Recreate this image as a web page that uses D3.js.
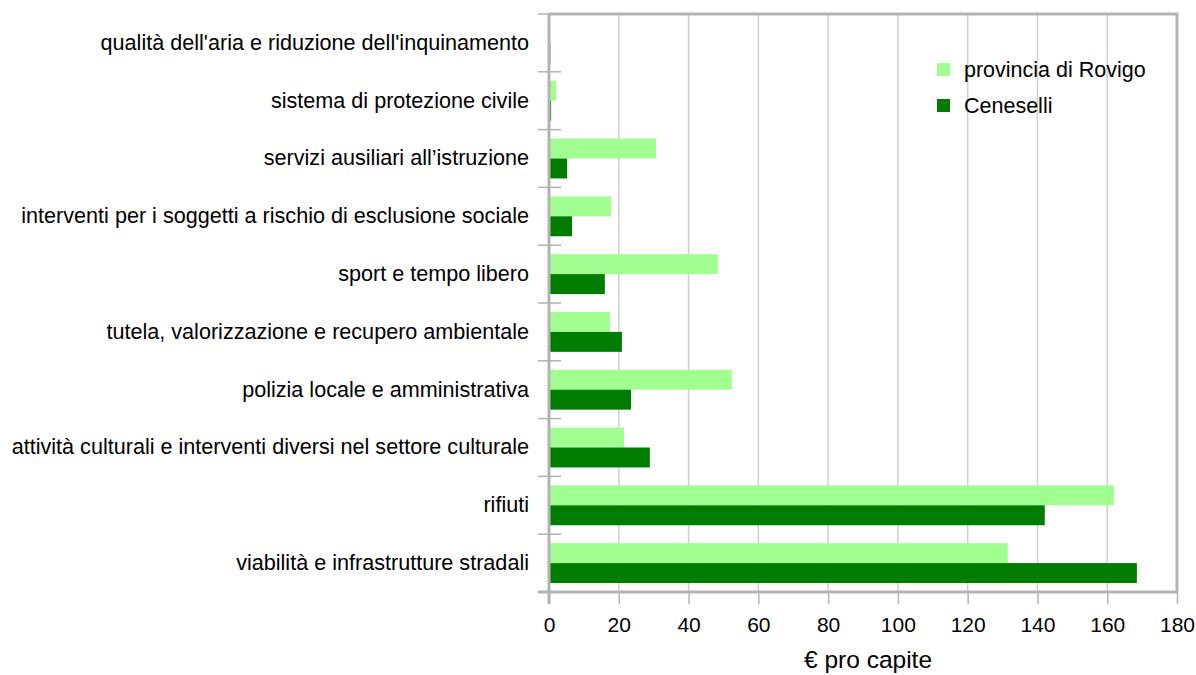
<!DOCTYPE html>
<html>
<head>
<meta charset="utf-8">
<script src="https://cdn.jsdelivr.net/npm/d3@7"></script>
<style>
  body { margin: 0; background: #fff; }
  svg text { font-family: "Liberation Sans", Arial, sans-serif; fill: #000; }
</style>
</head>
<body>
<div id="chart"></div>
<script>
// categorie (dall'alto verso il basso)
var categories = [
    "qualità dell'aria e riduzione dell'inquinamento",
    "sistema di protezione civile",
    "servizi ausiliari all’istruzione",
    "interventi per i soggetti a rischio di esclusione sociale",
    "sport e tempo libero",
    "tutela, valorizzazione e recupero ambientale",
    "polizia locale e amministrativa",
    "attività culturali e interventi diversi nel settore culturale",
    "rifiuti",
    "viabilità e infrastrutture stradali"
];
var seriesNames = ["provincia di Rovigo", "Ceneselli"];
var rovigo = [0.3, 2.0, 30.7, 17.8, 48.4, 17.5, 52.4, 21.5, 161.9, 131.5];
var ceneselli = [0.4, 0.6, 5.2, 6.6, 16.0, 20.9, 23.5, 28.9, 142.1, 168.5];
var xTicks = [0, 20, 40, 60, 80, 100, 120, 140, 160, 180];
var colors = ['#a0ff90', '#007c00'];

var width = 1196, height = 675;
var margin = { left: 549, right: 19, top: 14, bottom: 83 };
var plotW = width - margin.left - margin.right;
var plotH = height - margin.top - margin.bottom;

var svg = d3.select('#chart').append('svg')
    .attr('width', width)
    .attr('height', height);

var g = svg.append('g')
    .attr('transform', 'translate(' + margin.left + ',' + margin.top + ')');

var x = d3.scaleLinear().domain([0, 180]).range([0, plotW]);
var y = d3.scaleBand().domain(categories).range([0, plotH]).paddingInner(0.31).paddingOuter(0.155);
var yBand = d3.scaleBand().domain(categories).range([0, plotH]);
var sub = d3.scaleBand().domain(seriesNames).range([0, y.bandwidth()]);

//griglia verticale
g.append('g').selectAll('line')
    .data(xTicks.slice(1, -1))
    .enter().append('line')
    .attr('x1', function (d) { return x(d); })
    .attr('x2', function (d) { return x(d); })
    .attr('y1', 0)
    .attr('y2', plotH)
    .style('stroke', '#cfcfcf')
    .style('stroke-width', 1.5);

//barre
var data = [rovigo, ceneselli];
data.forEach(function (vals, s) {
    g.append('g').selectAll('rect')
        .data(vals)
        .enter().append('rect')
        .attr('x', x(0))
        .attr('y', function (d, i) { return y(categories[i]) + sub(seriesNames[s]); })
        .attr('width', function (d) { return x(d) - x(0); })
        .attr('height', sub.bandwidth())
        .style('fill', colors[s]);
});

//cornice
g.append('path')
    .attr('d', 'M0,0H' + plotW + 'V' + plotH)
    .style('fill', 'none')
    .style('stroke', '#b3b3b3')
    .style('stroke-width', 3);

//asse x
var xAxis = g.append('g')
    .attr('transform', 'translate(0,' + plotH + ')')
    .call(d3.axisBottom(x).tickValues(xTicks).tickSize(12).tickPadding(13).tickFormat(d3.format('d')));
xAxis.select('.domain').attr('d', 'M-11,0H' + plotW).style('stroke', '#b3b3b3').style('stroke-width', 3);
xAxis.selectAll('line').style('stroke', '#b3b3b3').style('stroke-width', 1.5);
xAxis.selectAll('text').style('font-size', '21px').attr('font-family', null);

//asse y
var yAxis = g.append('g')
    .call(d3.axisLeft(yBand).tickSize(0).tickPadding(20));
yAxis.select('.domain').remove();
yAxis.selectAll('text').style('font-size', '21.6px').attr('font-family', null);
g.append('g').selectAll('line')
    .data(d3.range(categories.length + 1))
    .enter().append('line')
    .attr('x1', -11).attr('x2', 12)
    .attr('y1', function (d) { return d * yBand.step(); })
    .attr('y2', function (d) { return d * yBand.step(); })
    .style('stroke', '#b3b3b3')
    .style('stroke-width', 1.5);
g.append('line')
    .attr('x1', 0).attr('x2', 0).attr('y1', 0).attr('y2', plotH + 12)
    .style('stroke', '#b3b3b3')
    .style('stroke-width', 3);

//titolo asse x
svg.append('text')
    .attr('x', margin.left + plotW / 2 + 5)
    .attr('y', 668)
    .attr('text-anchor', 'middle')
    .style('font-size', '24.5px')
    .text('€ pro capite');

//legenda
var legend = svg.append('g').attr('transform', 'translate(937,63)');
seriesNames.forEach(function (name, i) {
    legend.append('rect')
        .attr('x', 0).attr('y', i * 36)
        .attr('width', 13).attr('height', 13)
        .style('fill', colors[i]);
    legend.append('text')
        .attr('x', 27).attr('y', i * 36 + 14)
        .style('font-size', '21.5px')
        .text(name);
});
</script>
</body>
</html>
